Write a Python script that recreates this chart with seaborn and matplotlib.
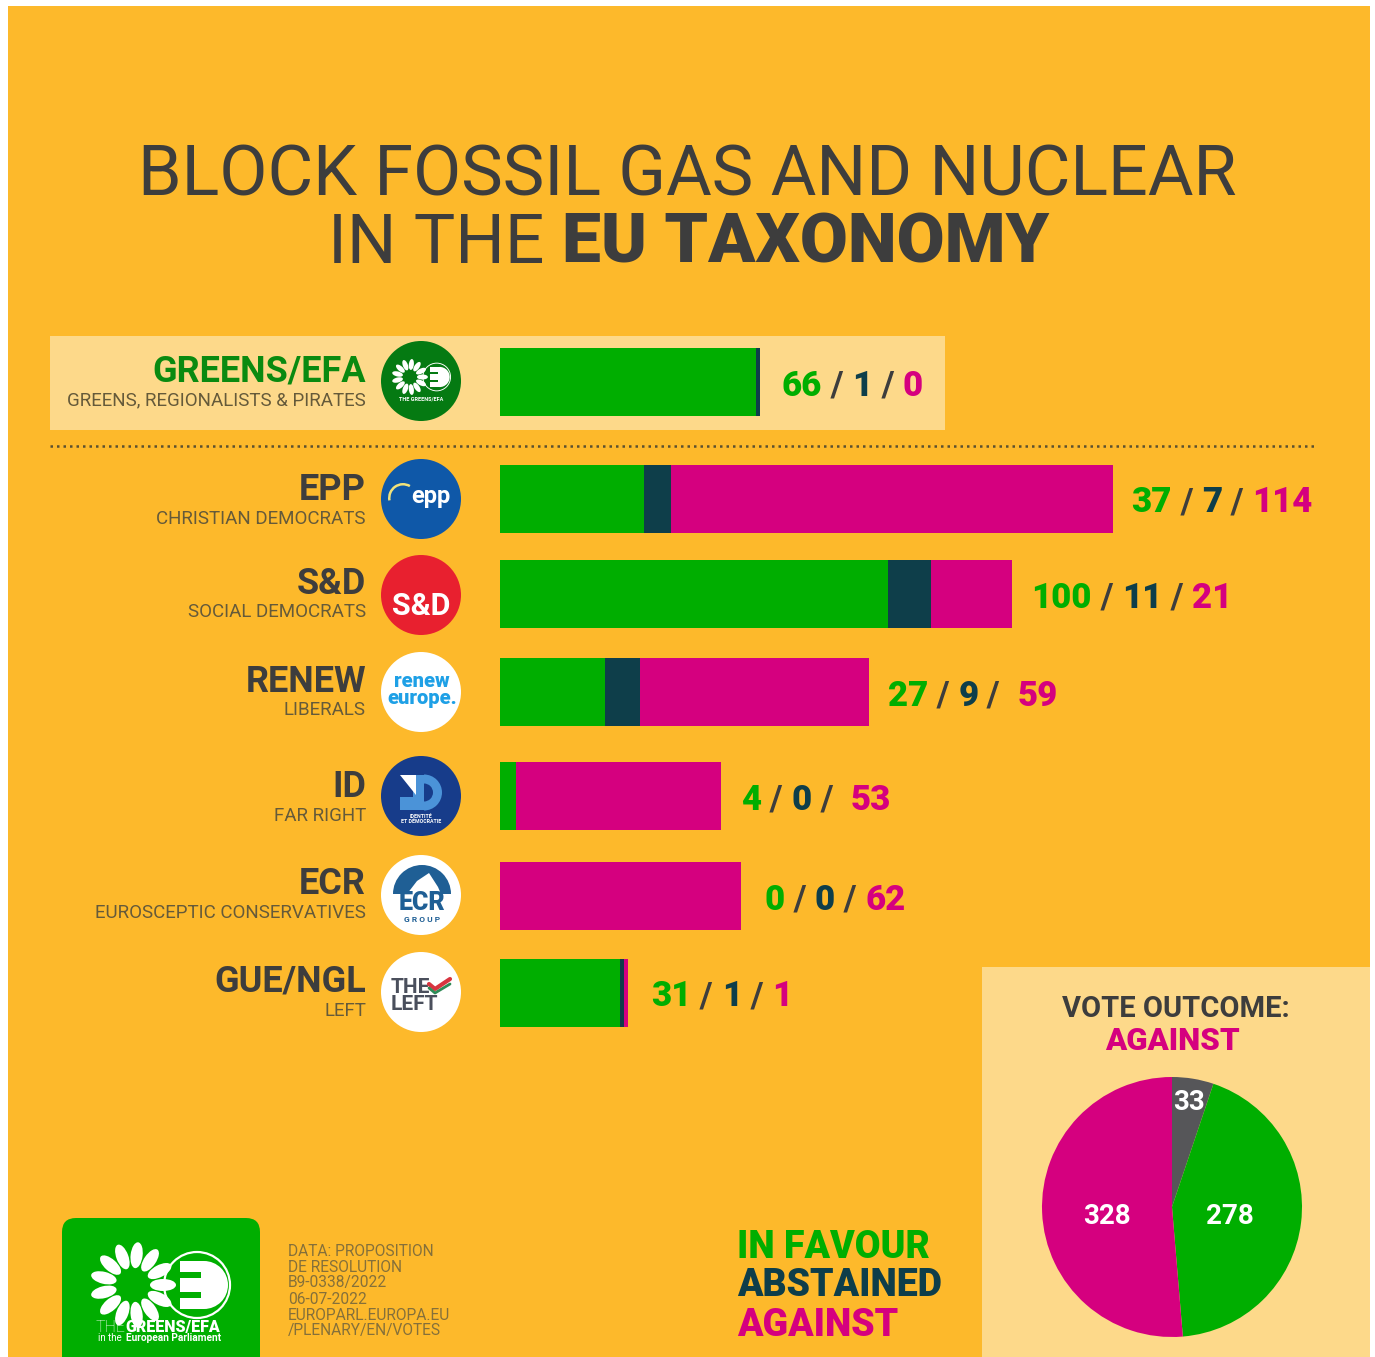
import numpy as np
import pandas as pd
import seaborn as sns
import matplotlib.pyplot as plt
from matplotlib.patches import Circle, Ellipse, FancyBboxPatch, Rectangle, Wedge

# data
groups = ['GREENS/EFA', 'EPP', 'S&D', 'RENEW', 'ID', 'ECR', 'GUE/NGL']
descriptions = ['GREENS, REGIONALISTS & PIRATES', 'CHRISTIAN DEMOCRATS', 'SOCIAL DEMOCRATS',
                'LIBERALS', 'FAR RIGHT', 'EUROSCEPTIC CONSERVATIVES', 'LEFT']
in_favour = [66, 37, 100, 27, 4, 0, 31]
abstained = [1, 7, 11, 9, 0, 0, 1]
against = [0, 114, 21, 59, 53, 62, 1]
outcome_labels = ['ABSTAINED', 'IN FAVOUR', 'AGAINST']
outcome_values = [33, 278, 328]
source_lines = ['DATA: PROPOSITION', 'DE RESOLUTION', 'B9-0338/2022', '06-07-2022',
                'EUROPARL.EUROPA.EU', '/PLENARY/EN/VOTES']

# colours
ORANGE = '#FDB92B'
LIGHT = '#FDD98A'
GREEN = '#00AE00'
DARK = '#0E3E4A'
MAGENTA = '#D5007F'
GREY = '#3D3D3D'
SUB = '#655A3A'

sns.set_theme(style='white')
plt.rcParams['font.family'] = ['Roboto', 'DejaVu Sans']

W, H = 1375, 1357
fig = plt.figure(figsize=(W / 100, H / 100), dpi=100, facecolor='white')

# pixel canvas for everything that is not a chart
ax = fig.add_axes([0, 0, 1, 1])
ax.set_xlim(0, W)
ax.set_ylim(H, 0)
ax.axis('off')
ax.set_zorder(0)

ax.add_patch(Rectangle((8, 6), 1362, H, color=ORANGE, lw=0))
ax.add_patch(Rectangle((50, 336), 895, 94, color=LIGHT, lw=0))
ax.add_patch(Rectangle((982, 967), 388, 400, color=LIGHT, lw=0))
ax.plot([50, 1314], [446, 446], color='#5b5030', lw=1.8, ls=(0, (1, 1.6)))


def runs(x, y, parts, size):
    # text pieces one after the other, each with own colour and weight
    rend = fig.canvas.get_renderer()
    for s, col, wt in parts:
        t = ax.text(x, y, s, color=col, fontsize=size, fontweight=wt, ha='left', va='center', zorder=7)
        x += t.get_window_extent(rend).width


# title
ax.text(687, 176, 'BLOCK FOSSIL GAS AND NUCLEAR', color=GREY, fontsize=50.4, fontweight='normal',
        ha='center', va='center')
runs(328, 244, [('IN THE ', GREY, 'normal'), ('EU TAXONOMY', GREY, 'black')], 50)

# bars, longest first so the shorter ones cover them
bar_y = [382, 499, 594, 692, 796, 896, 993]
px_per_vote = 3.88
df = pd.DataFrame({'group': groups, 'y': bar_y, 'favour': in_favour,
                   'abstain': abstained, 'against': against})
df['upto_abstain'] = df['favour'] + df['abstain']
df['total'] = df['upto_abstain'] + df['against']

ax_bar = fig.add_axes([500 / W, 0, (W - 500) / W, 1])
ax_bar.patch.set_alpha(0)
ax_bar.set_zorder(2)
for col, c in [('total', MAGENTA), ('upto_abstain', DARK), ('favour', GREEN)]:
    sns.barplot(data=df, x=col, y='y', orient='y', native_scale=True, color=c, saturation=1,
                width=68 / 95, errorbar=None, linewidth=0, ax=ax_bar)
ax_bar.set_xlim(0, (W - 500) / px_per_vote)
ax_bar.set_ylim(H, 0)
ax_bar.axis('off')

# vote counts next to bars, two rows have a wider gap before the last number
label_gap = [22, 18, 19, 19, 20, 24, 23]
last_sep = [' / ', ' / ', ' / ', ' /  ', ' /  ', ' / ', ' / ']
for i, row in df.iterrows():
    runs(500 + row['total'] * px_per_vote + label_gap[i], row['y'] + 4,
         [(str(row['favour']), GREEN, 'black'), (' / ', GREY, 'bold'),
          (str(row['abstain']), DARK, 'black'), (last_sep[i], GREY, 'bold'),
          (str(row['against']), MAGENTA, 'black')], 25)

# group names
name_y = [371, 490, 584, 682, 787, 884, 981]
desc_y = [400, 519, 612, 710, 816, 913, 1011]
for i in range(len(groups)):
    ax.text(366, name_y[i], groups[i], color='#0A8A10' if i == 0 else GREY, fontsize=26,
            fontweight='bold', ha='right', va='center')
    ax.text(366, desc_y[i], descriptions[i], color=SUB, fontsize=13.5, ha='right', va='center')


def greens_logo(cx, cy, s, bg):
    # sunflower and plug
    fx, fy = cx - 29 * s, cy
    for a in np.arange(0, 360, 360 / 13):
        r = 30 * s
        ax.add_patch(Ellipse((fx + r * np.cos(np.radians(a)), fy + r * np.sin(np.radians(a))),
                             26 * s, 12 * s, angle=a, color='white', lw=0, zorder=6))
    px, py = cx + 35 * s, cy
    ax.add_patch(Circle((px, py), 33 * s, fc='none', ec='white', lw=1.6 * s, zorder=6))
    ax.add_patch(Wedge((px + 7 * s, py), 24 * s, -90, 90, color='white', lw=0, zorder=6))
    ax.add_patch(Rectangle((px - 17 * s, py - 24 * s), 24 * s, 48 * s, color='white', lw=0, zorder=6))
    for dy in (-13, 7):
        ax.add_patch(Rectangle((px - 18 * s, py + dy * s), 22 * s, 6 * s, color=bg, lw=0, zorder=7))


# group logos
logo_x = 421
logo_y = [381, 499, 595, 692, 796, 895, 992]
logo_r = 40
logo_fc = ['#057A12', '#0F58A8', '#E8202F', 'white', '#173C8A', 'white', 'white']
for y, c in zip(logo_y, logo_fc):
    ax.add_patch(Circle((logo_x, y), logo_r, color=c, lw=0, zorder=5))

greens_logo(logo_x + 1, logo_y[0] - 4, 0.42, logo_fc[0])
ax.text(logo_x, logo_y[0] + 18, 'THE GREENS/EFA', color='white', fontsize=4, fontweight='bold',
        ha='center', va='center', zorder=7)

ax.text(logo_x + 10, logo_y[1] - 2, 'epp', color='white', fontsize=17, fontweight='bold',
        ha='center', va='center', zorder=7)
ax.add_patch(Wedge((logo_x - 18, logo_y[1] - 1), 15, 170, 300, width=2.5, color='#F2E27A', lw=0, zorder=7))

ax.text(logo_x, logo_y[2] + 11, 'S&D', color='white', fontsize=22, fontweight='bold',
        ha='center', va='center', zorder=7)

ax.text(logo_x + 1, logo_y[3] - 2, 'renew\neurope.', color='#1EA0E6', fontsize=14.5, fontweight='black',
        ha='center', va='center', linespacing=0.85, zorder=7)

# ID logo: exclamation mark inside a D
idy = logo_y[4]
ax.add_patch(Rectangle((logo_x - 8, idy - 21), 11, 35, color='#4B93D8', lw=0, zorder=6))
ax.add_patch(Wedge((logo_x + 3, idy - 3.5), 18, -90, 90, width=9, color='#4B93D8', lw=0, zorder=6))
ax.add_patch(Rectangle((logo_x - 21, idy + 1), 13, 13, color='#4B93D8', lw=0, zorder=6))
ax.add_patch(plt.Polygon([(logo_x - 21, idy - 21), (logo_x - 5, idy - 21), (logo_x - 5, idy - 1)],
                         color='white', lw=0, zorder=7))
ax.text(logo_x, idy + 23, 'IDENTITÉ\nET DÉMOCRATIE', color='white', fontsize=3.8, fontweight='bold',
        ha='center', va='center', linespacing=1, zorder=7)

ax.add_patch(Wedge((logo_x + 1, logo_y[5] - 1), 29, 180, 360, color='#1F5F95', lw=0, zorder=6))
ax.add_patch(plt.Polygon([(logo_x - 14, logo_y[5] - 1), (logo_x - 4, logo_y[5] - 14), (logo_x + 8, logo_y[5] - 22),
                          (logo_x + 17, logo_y[5] - 8), (logo_x + 20, logo_y[5] - 1)],
                         color='white', lw=0, zorder=6))
ax.text(logo_x + 1, logo_y[5] + 8, 'ECR', color='#1F5F95', fontsize=18, fontweight='black',
        ha='center', va='center', zorder=7)
ax.text(logo_x + 1, logo_y[5] + 25, 'G R O U P', color='#1F5F95', fontsize=6, fontweight='bold',
        ha='center', va='center', zorder=7)

ax.text(logo_x - 30, logo_y[6] + 4, 'THE\nLEFT', color='#4A4F5C', fontsize=15, fontweight='bold',
        ha='left', va='center', linespacing=0.85, zorder=7)
ax.plot([logo_x + 8, logo_x + 14, logo_x + 29], [logo_y[6] - 8, logo_y[6] - 3, logo_y[6] - 13],
        color='#D8343F', lw=3, zorder=7)
ax.plot([logo_x + 8, logo_x + 14, logo_x + 29], [logo_y[6] - 4, logo_y[6] + 1, logo_y[6] - 8],
        color='#2E8B57', lw=2, zorder=7)

# bottom left logo and source
ax.add_patch(FancyBboxPatch((74, 1230), 174, 160, boxstyle='round,pad=12,rounding_size=14',
                            color=GREEN, lw=0, zorder=3))
greens_logo(162, 1285, 1.0, GREEN)
runs(96, 1327, [('THE', 'white', 'light'), ('GREENS/EFA', 'white', 'black')], 11.5)
ax.text(98, 1338, 'in the', color='white', fontsize=7, ha='left', va='center', zorder=7)
ax.text(126, 1338, 'European Parliament', color='white', fontsize=7.3, fontweight='bold',
        ha='left', va='center', zorder=7)

for k, line in enumerate(source_lines):
    ax.text(288, 1251 + 16 * k, line, color='#85703A', fontsize=11.2, ha='left', va='center')

# legend text
legend_y = [1286, 1247, 1326]
for label, y, c in zip(outcome_labels, legend_y, [DARK, GREEN, MAGENTA]):
    ax.text(737, y, label, color=c, fontsize=27, fontweight='black', ha='left', va='center')

# outcome pie
ax.text(1176, 1009, 'VOTE OUTCOME:', color=GREY, fontsize=21, fontweight='bold', ha='center', va='center')
ax.text(1172, 1041, 'AGAINST', color=MAGENTA, fontsize=22.5, fontweight='black', ha='center', va='center')
ax_pie = fig.add_axes([1042 / W, 1 - 1337 / H, 260 / W, 260 / H])
ax_pie.set_zorder(1)
ax_pie.pie(outcome_values, colors=['#565659', GREEN, MAGENTA], startangle=90, counterclock=False,
           radius=1, wedgeprops={'linewidth': 0})
ax_pie.set_xlim(-1, 1)
ax_pie.set_ylim(-1, 1)

ax_top = fig.add_axes([0, 0, 1, 1])
ax_top.set_xlim(0, W)
ax_top.set_ylim(H, 0)
ax_top.axis('off')
ax_top.set_zorder(3)
for v, x, y in zip(outcome_values, [1189, 1230, 1107], [1103, 1216, 1216]):
    ax_top.text(x, y, str(v), color='white', fontsize=20, fontweight='bold', ha='center', va='center')

plt.savefig('out.png', dpi=100, facecolor='white')
